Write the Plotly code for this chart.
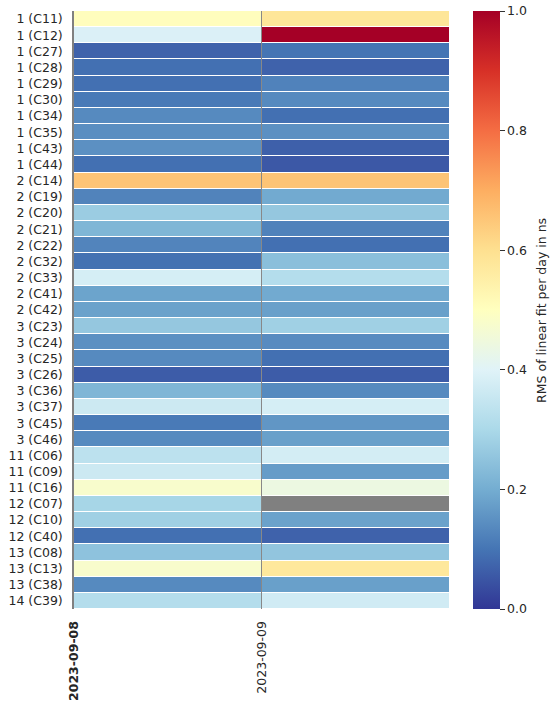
import numpy as np
import plotly.graph_objects as go

stations = ["1 (C11)", "1 (C12)", "1 (C27)", "1 (C28)", "1 (C29)", "1 (C30)", "1 (C34)", "1 (C35)",
            "1 (C43)", "1 (C44)", "2 (C14)", "2 (C19)", "2 (C20)", "2 (C21)", "2 (C22)", "2 (C32)",
            "2 (C33)", "2 (C41)", "2 (C42)", "3 (C23)", "3 (C24)", "3 (C25)", "3 (C26)", "3 (C36)",
            "3 (C37)", "3 (C45)", "3 (C46)", "11 (C06)", "11 (C09)", "11 (C16)", "12 (C07)",
            "12 (C10)", "12 (C40)", "13 (C08)", "13 (C13)", "13 (C38)", "14 (C39)"]
days = ["2023-09-08", "2023-09-09"]
colorbar_title = "RMS of linear fit per day in ns"

rms_day1 = [0.505, 0.39, 0.07, 0.092, 0.092, 0.109, 0.137, 0.145, 0.148, 0.092,
            0.656, 0.125, 0.27, 0.22, 0.127, 0.095, 0.38, 0.184, 0.18, 0.26,
            0.148, 0.137, 0.06, 0.22, 0.362, 0.109, 0.137, 0.332, 0.362, 0.477,
            0.293, 0.28, 0.092, 0.248, 0.477, 0.137, 0.317]
rms_day2 = [0.58, 1.0, 0.10, 0.07, 0.123, 0.137, 0.092, 0.148, 0.067, 0.054,
            0.656, 0.195, 0.26, 0.123, 0.092, 0.24, 0.317, 0.195, 0.177, 0.28,
            0.14, 0.092, 0.06, 0.137, 0.38, 0.159, 0.177, 0.375, 0.17, 0.44,
            None, 0.18, 0.07, 0.255, 0.574, 0.177, 0.37]

z = np.array([[np.nan if v is None else v for v in row] for row in zip(rms_day1, rms_day2)], dtype=float)
nan_mask = np.where(np.isnan(z), 1.0, np.nan)

rdylbu_r = ["#313695", "#4575b4", "#74add1", "#abd9e9", "#e0f3f8", "#ffffbf",
            "#fee090", "#fdae61", "#f46d43", "#d73027", "#a50026"]
colorscale = [[i / 10, c] for i, c in enumerate(rdylbu_r)]

fig = go.Figure()
fig.add_trace(go.Heatmap(
    z=z, x=[0, 1], y=stations, colorscale=colorscale, zmin=0, zmax=1,
    ygap=1, xgap=0, hoverongaps=False,
    colorbar=dict(
        x=1.064, xanchor="left", xref="paper", y=0.5, yanchor="middle",
        len=1.0, lenmode="fraction", thickness=27, outlinewidth=0, xpad=0, ypad=0,
        tickvals=[0, 0.2, 0.4, 0.6, 0.8, 1.0], tickformat=".1f",
        ticks="outside", ticklen=5, tickcolor="#333", tickwidth=1,
        tickfont=dict(family="DejaVu Sans", size=12.5, color="#262626"),
    ),
))
fig.add_trace(go.Heatmap(
    z=nan_mask, x=[0, 1], y=stations, colorscale=[[0, "#808080"], [1, "#808080"]],
    showscale=False, ygap=1, hoverinfo="skip",
))

fig.add_shape(type="line", x0=0.5, x1=0.5, y0=0, y1=1, yref="paper",
              line=dict(color="#888888", width=1))

fig.add_annotation(text=colorbar_title, x=1.245, y=0.5, xref="paper", yref="paper",
                   textangle=-90, showarrow=False, xanchor="center", yanchor="middle",
                   font=dict(family="DejaVu Sans", size=12.5, color="#262626"))

fig.update_layout(
    width=558, height=703,
    margin=dict(l=74, r=109, t=11, b=94, autoexpand=False),
    plot_bgcolor="white", paper_bgcolor="white",
    font=dict(family="DejaVu Sans", size=12.5, color="#262626"),
    xaxis=dict(
        range=[-0.5, 1.5], tickvals=[-0.5, 0.5],
        ticktext=["<b>" + days[0] + "</b>", days[1]],
        tickangle=-90, showgrid=False, zeroline=False,
        ticks="outside", ticklen=6, tickcolor="rgba(0,0,0,0)",
        tickfont=dict(family="DejaVu Sans", size=12.5, color="#262626"),
    ),
    yaxis=dict(
        autorange="reversed", showgrid=False, zeroline=False,
        showline=True, linecolor="#808080", linewidth=1.5,
        ticks="outside", ticklen=7, tickcolor="rgba(0,0,0,0)",
        tickfont=dict(family="DejaVu Sans", size=12.5, color="#262626"),
    ),
)

fig.write_html("out.html", config={"displayModeBar": False},
               post_script="document.body.style.margin='0';document.body.style.overflow='hidden';")
